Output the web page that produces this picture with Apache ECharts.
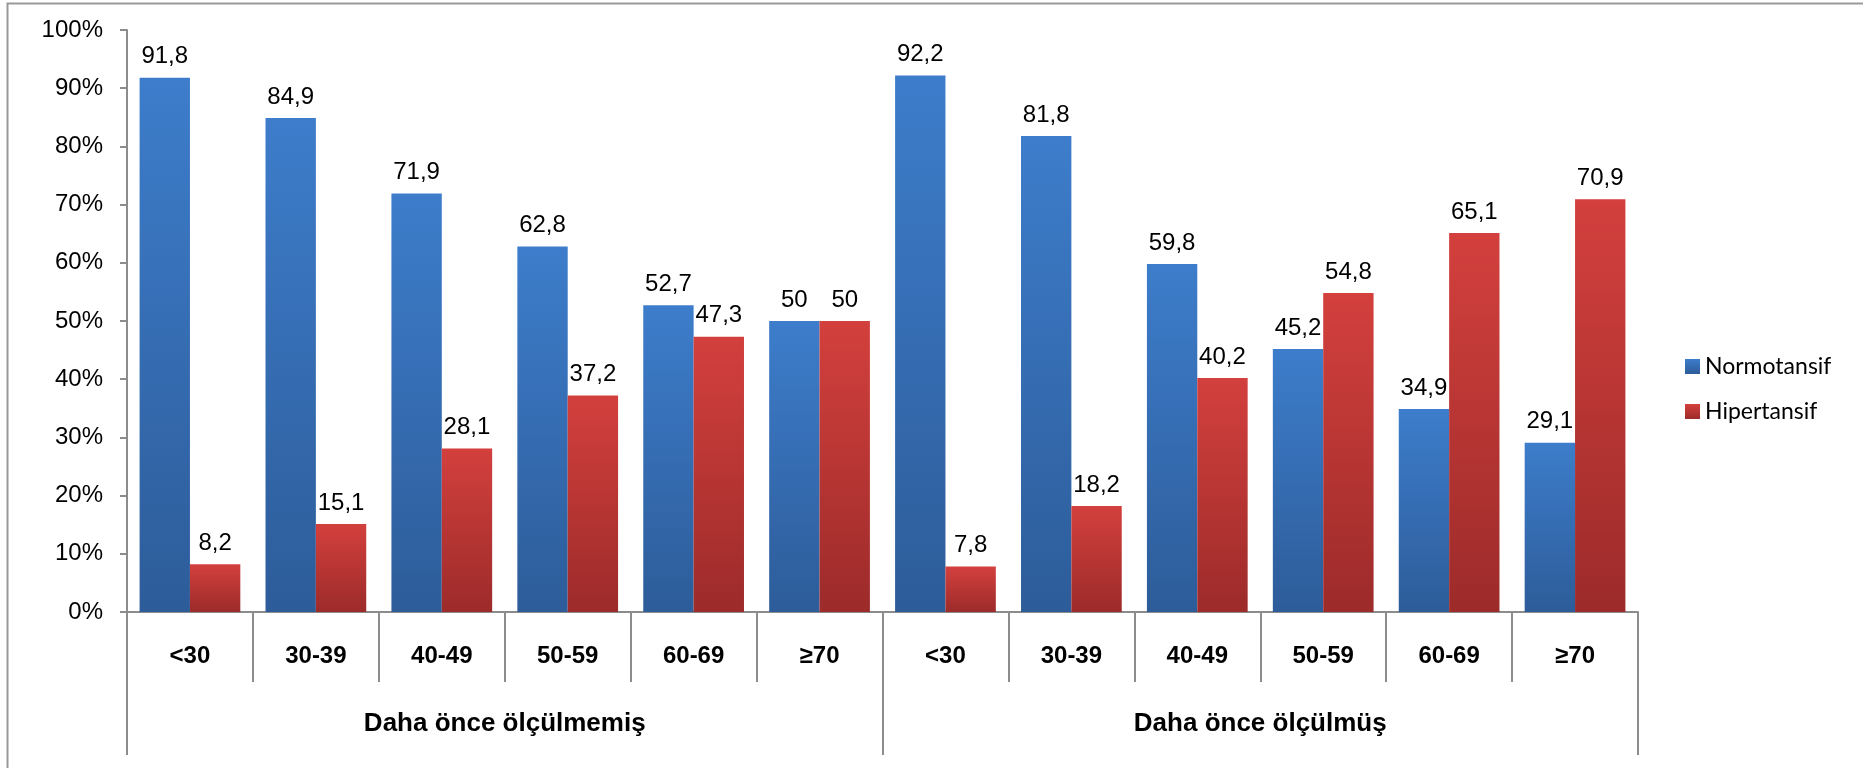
<!DOCTYPE html>
<html>
<head>
<meta charset="utf-8">
<script src="https://cdn.jsdelivr.net/npm/echarts@6/dist/echarts.min.js"></script>
<style>
html,body{margin:0;padding:0;background:#fff;}
#c{width:1863px;height:768px;}
</style>
</head>
<body>
<div id="c"></div>
<script>
const categories = ['<30','30-39','40-49','50-59','60-69','≥70','<30','30-39','40-49','50-59','60-69','≥70'];
const groups = ['Daha önce ölçülmemiş','Daha önce ölçülmüş'];
const normotansif = [91.8, 84.9, 71.9, 62.8, 52.7, 50, 92.2, 81.8, 59.8, 45.2, 34.9, 29.1];
const hipertansif = [8.2, 15.1, 28.1, 37.2, 47.3, 50, 7.8, 18.2, 40.2, 54.8, 65.1, 70.9];
const seriesNames = ['Normotansif','Hipertansif'];

const chart = echarts.init(document.getElementById('c'), null, {renderer:'canvas'});
const grad = (top, bottom) => new echarts.graphic.LinearGradient(0,0,0,1,[{offset:0,color:top},{offset:1,color:bottom}]);
const axisGray = '#8c8c8c';
const fmt = p => String(p.value).replace('.', ',');
const labelStyle = {show:true, position:'top', distance:9, color:'#000', fontFamily:'Liberation Sans, Arial', fontSize:24, formatter: fmt};

chart.setOption({
  animation:false,
  backgroundColor:'#fff',
  graphic:[{type:'rect', shape:{x:7.5,y:3.5,width:1900,height:800}, style:{fill:null, stroke:'#999', lineWidth:2}, silent:true}],
  grid:{left:127, right:225, top:30, bottom:156, containLabel:false},
  legend:{
    orient:'vertical', left:1680, top:350, itemWidth:15, itemHeight:15, itemGap:22,
    icon:'rect',
    textStyle:{fontFamily:'Lato, Carlito, sans-serif', fontSize:23, color:'#000', padding:[0,0,0,0]},
    data: seriesNames
  },
  xAxis:[{
    type:'category', data:categories, position:'bottom',
    axisLine:{show:true, lineStyle:{color:axisGray, width:2}},
    axisTick:{show:true, interval:0, length:70, lineStyle:{color:axisGray, width:2}},
    axisLabel:{interval:0, margin:32, fontFamily:'Liberation Sans, Arial', fontWeight:'bold', fontSize:24, color:'#000'}
  },{
    type:'category', data:groups, position:'bottom', gridIndex:0,
    axisLine:{show:false},
    axisTick:{show:true, interval:0, length:143, lineStyle:{color:axisGray, width:2}},
    axisLabel:{interval:0, margin:99, fontFamily:'Liberation Sans, Arial', fontWeight:'bold', fontSize:26, color:'#000'}
  }],
  yAxis:{
    type:'value', min:0, max:100, interval:10,
    axisLine:{show:true, lineStyle:{color:axisGray, width:2}},
    axisTick:{show:true, length:7, lineStyle:{color:axisGray, width:2}},
    splitLine:{show:false},
    axisLabel:{formatter:'{value}%', margin:24, fontFamily:'Liberation Sans, Arial', fontSize:24, color:'#000'}
  },
  series:[{
    name:seriesNames[0], type:'bar', xAxisIndex:0, data:normotansif,
    barWidth:'40%', barGap:'0%',
    itemStyle:{color:grad('#3d7dcb','#2d5c99')},
    label:labelStyle
  },{
    name:seriesNames[1], type:'bar', xAxisIndex:0, data:hipertansif,
    barWidth:'40%', barGap:'0%',
    itemStyle:{color:grad('#d3403d','#9c2b2a')},
    label:labelStyle
  }]
});
</script>
</body>
</html>
